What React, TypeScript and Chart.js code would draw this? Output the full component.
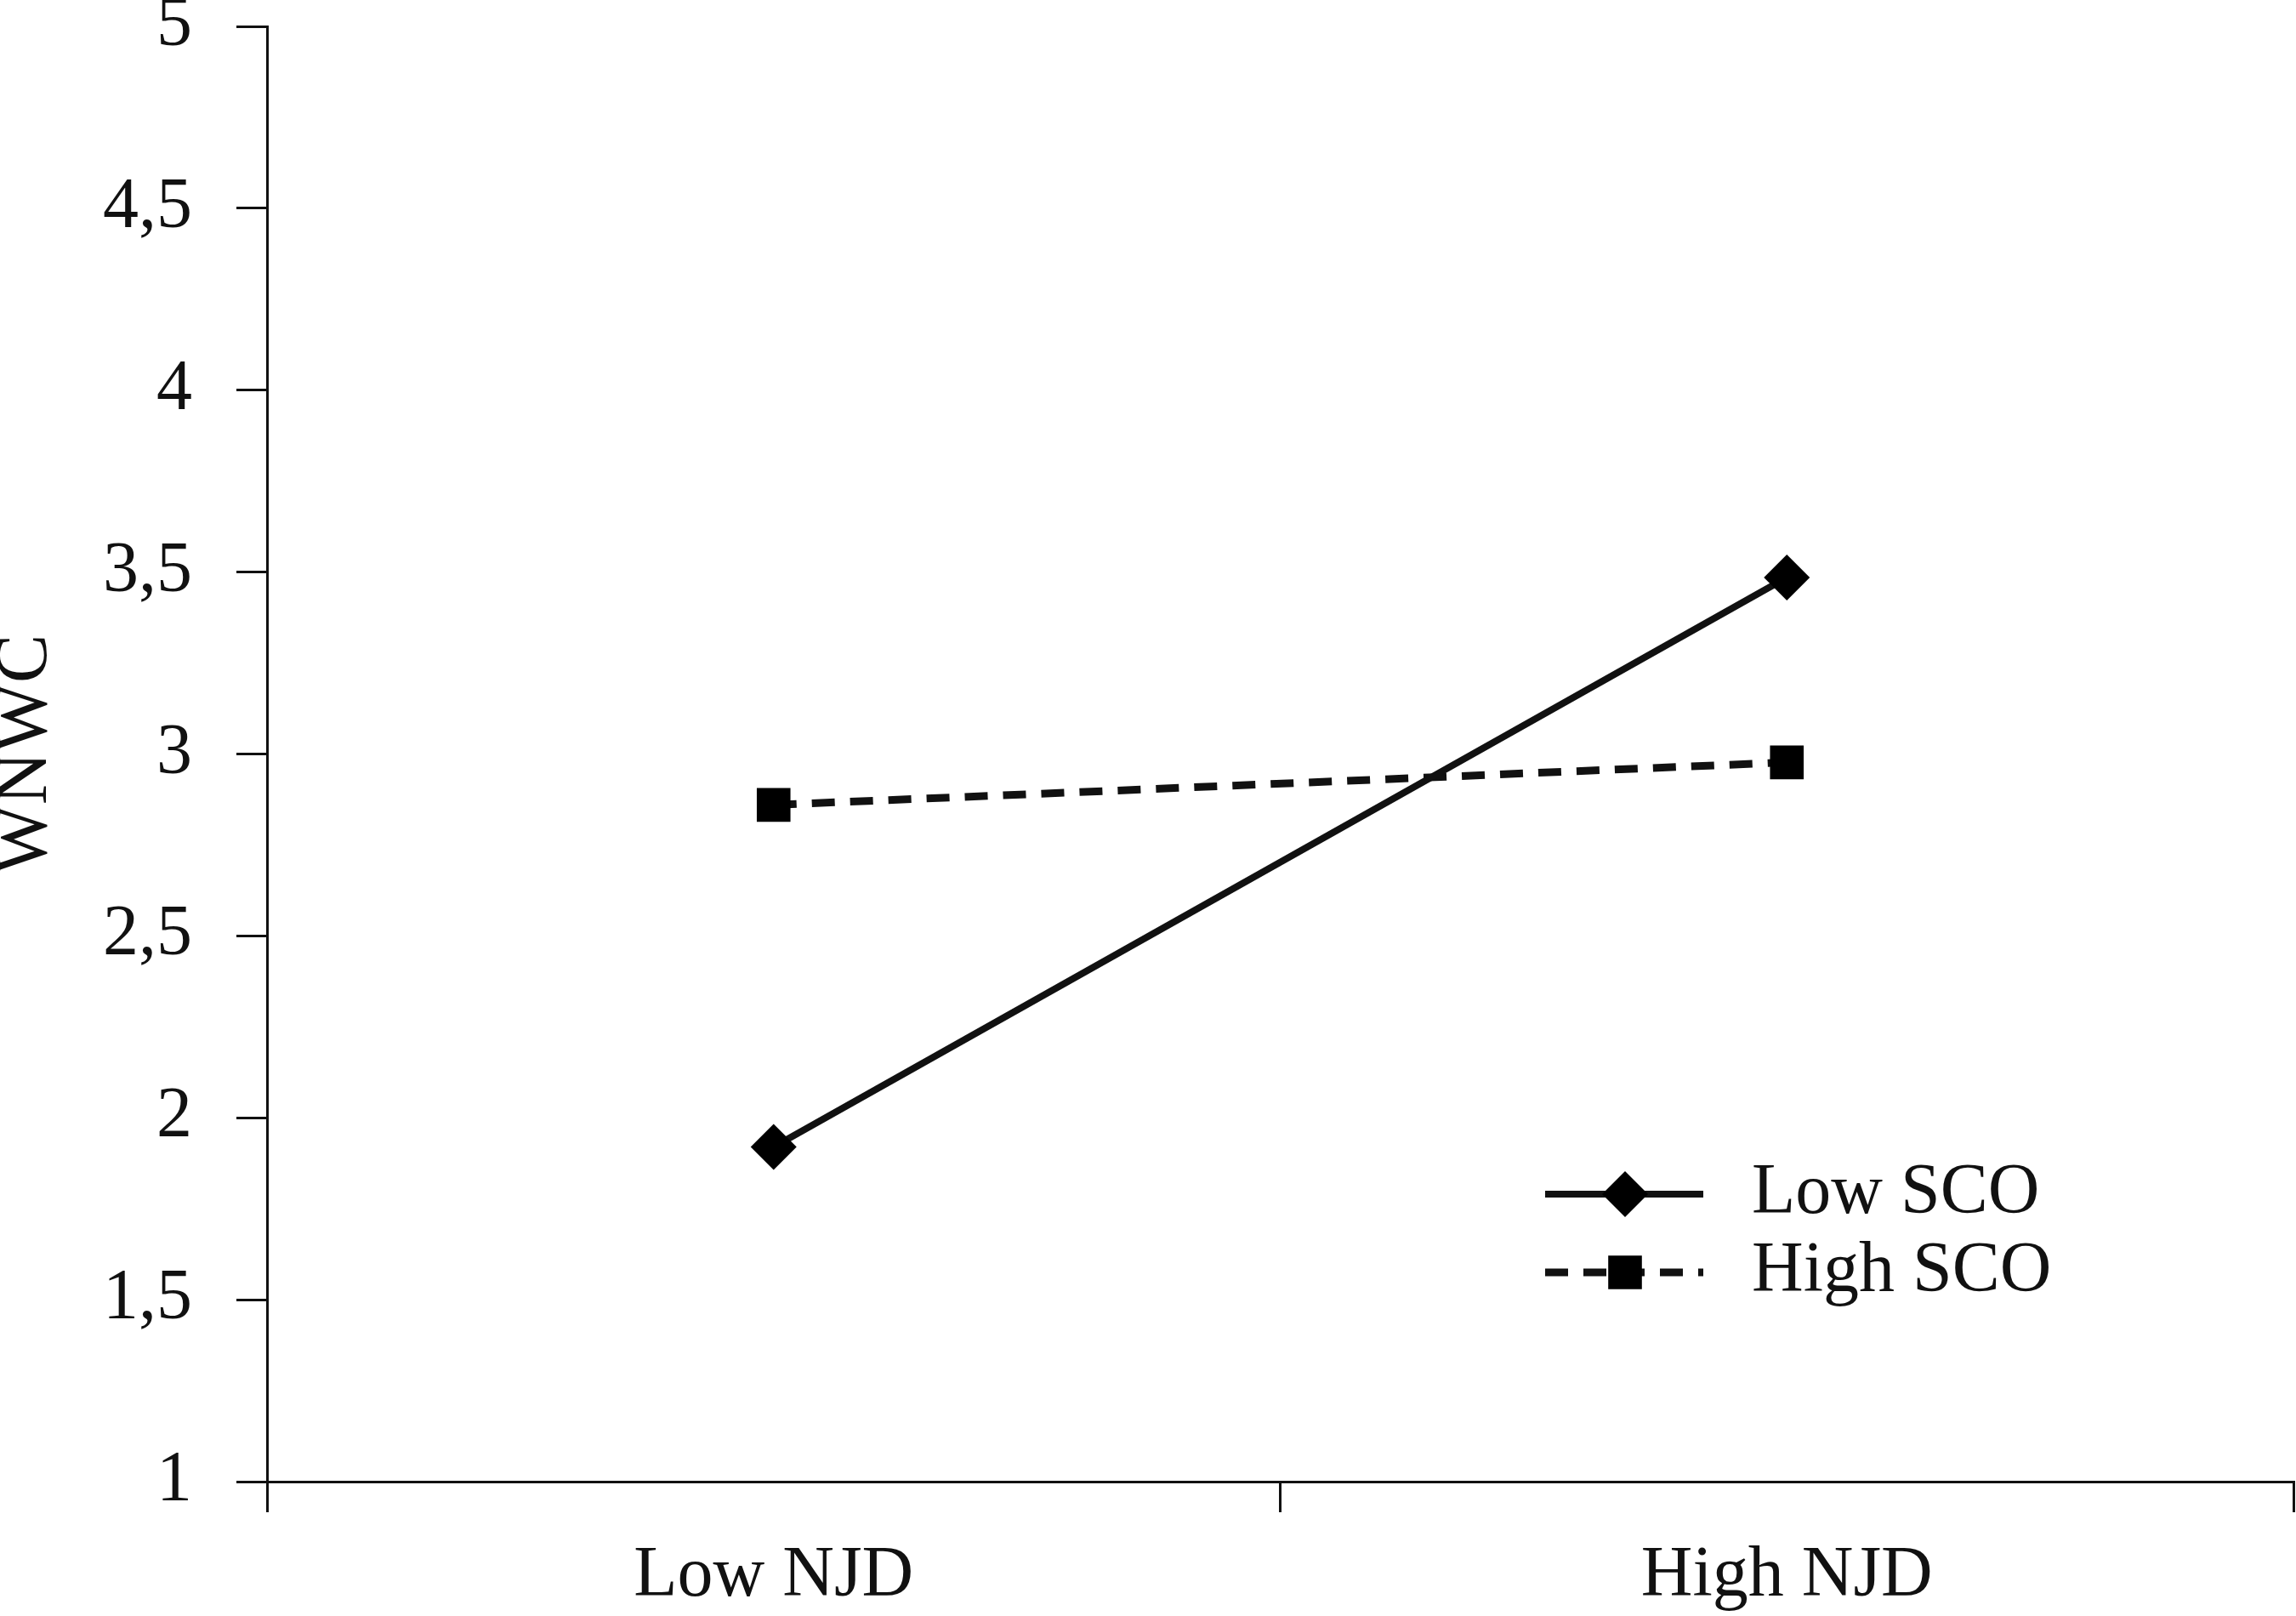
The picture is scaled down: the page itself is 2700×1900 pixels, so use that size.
import React, { useEffect, useRef } from "react";
import { Chart, registerables } from "chart.js";

Chart.register(...registerables);

const categories = ["Low NJD", "High NJD"];
const seriesNames = ["Low SCO", "High SCO"];
const lowSCO = [1.92, 3.485];
const highSCO = [2.86, 2.977];
const yTickLabels = ["1", "1,5", "2", "2,5", "3", "3,5", "4", "4,5", "5"];
const yTitle = "WNWC";

const FONT = "'Liberation Serif', 'DejaVu Serif', serif";
const INK = "#111111";

const legendPlugin = {
  id: "insideLegend",
  afterDraw(chart: any) {
    const { ctx } = chart;
    const x0 = 1817;
    const x1 = 2003;
    const xm = 1911;
    const textX = 2060;
    const rows = [1404, 1496];
    chart.data.datasets.forEach((ds: any, i: number) => {
      const y = rows[i];
      ctx.save();
      ctx.strokeStyle = ds.borderColor;
      ctx.lineWidth = ds.borderWidth;
      ctx.setLineDash(ds.borderDash || []);
      ctx.beginPath();
      ctx.moveTo(x0, y);
      ctx.lineTo(x1, y);
      ctx.stroke();
      ctx.setLineDash([]);
      ctx.fillStyle = ds.pointBackgroundColor;
      ctx.beginPath();
      const r = ds.pointRadius;
      if (ds.pointStyle === "rectRot") {
        ctx.moveTo(xm - r, y);
        ctx.lineTo(xm, y - r);
        ctx.lineTo(xm + r, y);
        ctx.lineTo(xm, y + r);
        ctx.closePath();
      } else {
        const s = Math.SQRT1_2 * r;
        ctx.rect(xm - s, y - s, 2 * s, 2 * s);
      }
      ctx.fill();
      ctx.fillStyle = INK;
      ctx.font = `84px ${FONT}`;
      ctx.textBaseline = "middle";
      ctx.textAlign = "left";
      ctx.fillText(ds.label, textX, y);
      ctx.restore();
    });
  },
};

const zeroPad = (s: any) => {
  s.paddingTop = 0;
  s.paddingBottom = 0;
  s.paddingLeft = 0;
  s.paddingRight = 0;
};

export default function App() {
  const ref = useRef<HTMLCanvasElement>(null);
  useEffect(() => {
    document.body.style.margin = "0";
    const chart = new Chart(ref.current as HTMLCanvasElement, {
      type: "line",
      data: {
        labels: categories,
        datasets: [
          {
            label: seriesNames[0],
            data: lowSCO,
            borderColor: INK,
            borderWidth: 8,
            pointStyle: "rectRot",
            pointRadius: 27,
            pointBackgroundColor: "#000",
            pointBorderColor: "#000",
            pointBorderWidth: 0,
            tension: 0,
          },
          {
            label: seriesNames[1],
            data: highSCO,
            borderColor: INK,
            borderWidth: 9,
            borderDash: [27, 18],
            pointStyle: "rect",
            pointRadius: 28,
            pointBackgroundColor: "#000",
            pointBorderColor: "#000",
            pointBorderWidth: 0,
            tension: 0,
          },
        ],
      },
      options: {
        animation: false,
        responsive: false,
        maintainAspectRatio: false,
        devicePixelRatio: 1,
        layout: { autoPadding: false, padding: { top: 31, right: 3, left: 0, bottom: 0 } },
        plugins: {
          legend: { display: false },
          tooltip: { enabled: false },
        },
        scales: {
          x: {
            type: "category",
            offset: true,
            grid: {
              display: true,
              offset: true,
              drawOnChartArea: false,
              drawTicks: true,
              tickLength: 36,
              color: INK,
              lineWidth: 3,
            },
            border: { display: true, color: INK, width: 3 },
            ticks: {
              font: { family: FONT, size: 84 },
              color: INK,
              padding: 26,
              maxRotation: 0,
              autoSkip: false,
            },
            afterFit: (s: any) => {
              s.height = 158;
              zeroPad(s);
            },
          },
          y: {
            min: 1,
            max: 5,
            grid: {
              display: true,
              drawOnChartArea: false,
              drawTicks: true,
              tickLength: 36,
              color: INK,
              lineWidth: 3,
            },
            border: { display: true, color: INK, width: 3 },
            ticks: {
              stepSize: 0.5,
              font: { family: FONT, size: 84 },
              color: INK,
              padding: 52,
              callback: (_v: any, i: number) => yTickLabels[i],
            },
            title: {
              display: true,
              text: yTitle,
              color: INK,
              font: { family: FONT, size: 86, lineHeight: 0.72 },
              padding: 0,
            },
            afterFit: (s: any) => {
              s.width = 314;
              zeroPad(s);
            },
          },
        },
      },
      plugins: [legendPlugin],
    });
    return () => chart.destroy();
  }, []);
  return (
    <div style={{ width: 2700, height: 1900, background: "#fff" }}>
      <canvas ref={ref} width={2700} height={1900} style={{ width: 2700, height: 1900, display: "block" }} />
    </div>
  );
}
